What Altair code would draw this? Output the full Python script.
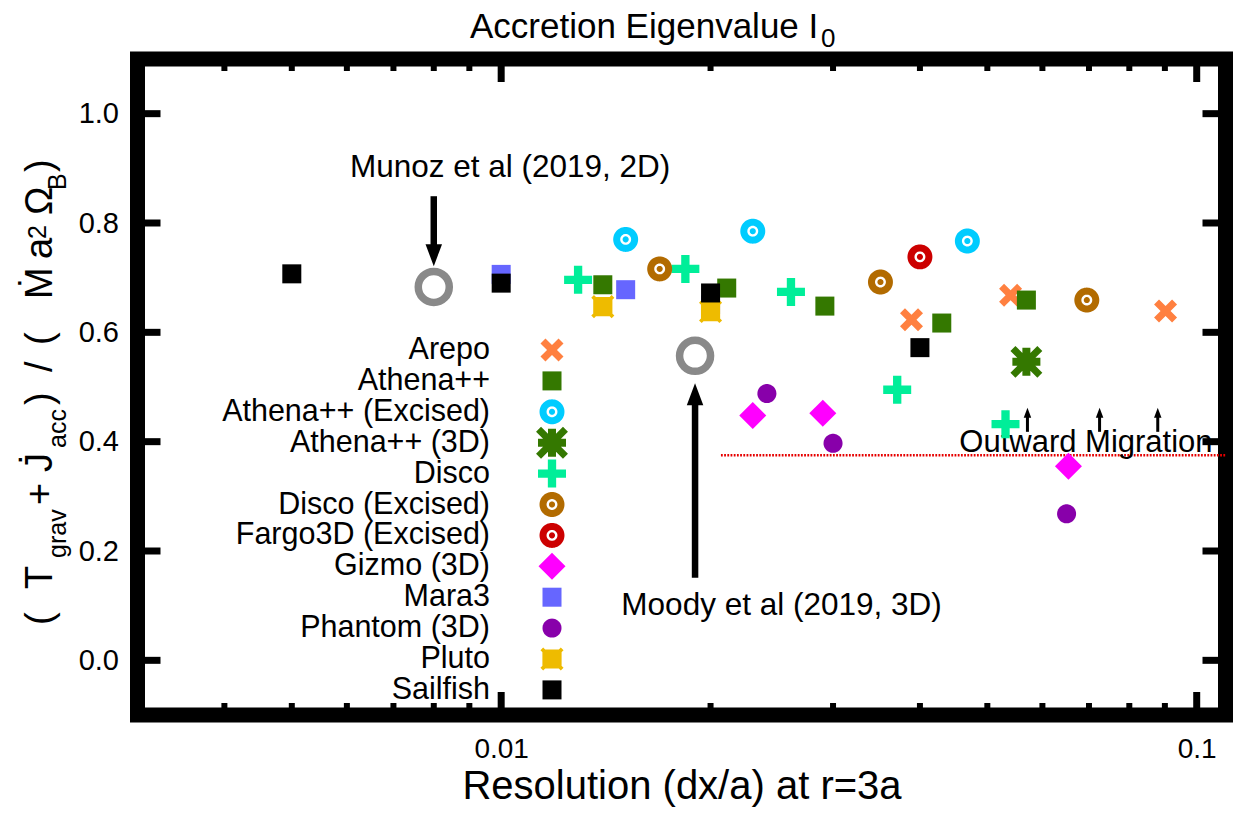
import math
import altair as alt
import pandas as pd

FONT = "Liberation Sans"

# plot-area size in pixels and the axis ranges
PLOT_W, PLOT_H = 1088, 656
X_DOMAIN = [0.003, 0.11]
Y_DOMAIN = [-0.1, 1.1]

codes = ["Arepo", "Athena++", "Athena++ (Excised)", "Athena++ (3D)", "Disco",
         "Disco (Excised)", "Fargo3D (Excised)", "Gizmo (3D)", "Mara3",
         "Phantom (3D)", "Pluto", "Sailfish"]
code_colors = ["#ff8040", "#347800", "#00ccff", "#347800", "#00ee99", "#b26b00",
               "#cc0000", "#ff00ff", "#6666ff", "#8800aa", "#eebb00", "#000000"]

# resolution (dx/a at r=3a) and accretion eigenvalue l0 for each code
arepo_res = [0.0389, 0.0540, 0.0902]
arepo_l0 = [0.623, 0.668, 0.639]
athena_res = [0.0140, 0.0211, 0.0292, 0.0430, 0.0569]
athena_l0 = [0.687, 0.681, 0.648, 0.617, 0.659]
athena_exc_res = [0.0151, 0.0230, 0.0468]
athena_exc_l0 = [0.770, 0.785, 0.767]
athena_3d_res = [0.0569]
athena_3d_l0 = [0.546]
disco_res = [0.0129, 0.0184, 0.0261, 0.0371, 0.0531]
disco_l0 = [0.696, 0.716, 0.674, 0.495, 0.432]
disco_exc_res = [0.0169, 0.0351, 0.0695]
disco_exc_l0 = [0.716, 0.692, 0.659]
fargo_exc_res = [0.0400]
fargo_exc_l0 = [0.738]
gizmo_res = [0.0230, 0.0290, 0.0654]
gizmo_l0 = [0.448, 0.452, 0.355]
mara_res = [0.0100, 0.0151, 0.0200]
mara_l0 = [0.706, 0.678, 0.650]
phantom_res = [0.0241, 0.0300, 0.0650]
phantom_l0 = [0.488, 0.397, 0.268]
pluto_res = [0.0140, 0.0200]
pluto_l0 = [0.647, 0.638]
sailfish_res = [0.0050, 0.0100, 0.0200, 0.0400]
sailfish_l0 = [0.707, 0.690, 0.672, 0.572]

# published reference values
ref_res = [0.0080, 0.0190]
ref_l0 = [0.683, 0.557]
ref_labels = ["Munoz et al (2019, 2D)", "Moody et al (2019, 3D)"]
ref_label_res = [0.0103, 0.0253]
ref_label_l0 = [0.900, 0.099]
ref_arrow_from = [0.849, 0.151]
ref_arrow_to = [0.721, 0.507]

# outward-migration threshold
migration_l0 = 0.375
migration_res = [0.0207, 0.11]
migration_arrow_res = [0.0571, 0.0725, 0.0879]
migration_arrow_from = 0.418
migration_arrow_to = 0.462
migration_label_res = 0.0693
migration_label_l0 = 0.397

x_major = [0.01, 0.1]
x_minor = [0.003, 0.004, 0.005, 0.006, 0.007, 0.008, 0.009,
           0.02, 0.03, 0.04, 0.05, 0.06, 0.07, 0.08, 0.09]
y_major = [0.0, 0.2, 0.4, 0.6, 0.8, 1.0]


# ---- marker outlines, in the -1..1 box that Vega scales by sqrt(size)/2 ----
def path(*polys):
    out = []
    for pts in polys:
        out.append("M" + "L".join(f"{x:.4f},{y:.4f}" for x, y in pts) + "Z")
    return "".join(out)


def square(s):
    return [(-s, -s), (s, -s), (s, s), (-s, s)]


def disk(r, n=64, reverse=False):
    pts = [(r * math.cos(2 * math.pi * k / n), r * math.sin(2 * math.pi * k / n)) for k in range(n)]
    return pts[::-1] if reverse else pts


def plus(L, t):
    return [(-t, -L), (t, -L), (t, -t), (L, -t), (L, t), (t, t),
            (t, L), (-t, L), (-t, t), (-L, t), (-L, -t), (-t, -t)]


def rot45(pts):
    c = math.sqrt(0.5)
    return [(x * c - y * c, x * c + y * c) for x, y in pts]


SQUARE = path(square(0.594))
DOT = path(disk(0.594))
DIAMOND = path([(0, -0.844), (0.844, 0), (0, 0.844), (-0.844, 0)])
PLUS = path(plus(0.875, 0.26))
CROSS = path(rot45(plus(0.797, 0.22)))
STAR = path(rot45(plus(1.19, 0.22)), plus(0.875, 0.25))
PLUTO = path(square(0.6), rot45(plus(0.9, 0.12)))
EXCISED = path(disk(0.78), disk(0.34, reverse=True), disk(0.19))

code_shapes = [CROSS, SQUARE, EXCISED, STAR, PLUS, EXCISED, EXCISED,
               DIAMOND, SQUARE, DOT, PLUTO, SQUARE]

series = [
    (arepo_res, arepo_l0), (athena_res, athena_l0), (athena_exc_res, athena_exc_l0),
    (athena_3d_res, athena_3d_l0), (disco_res, disco_l0), (disco_exc_res, disco_exc_l0),
    (fargo_exc_res, fargo_exc_l0), (gizmo_res, gizmo_l0), (mara_res, mara_l0),
    (phantom_res, phantom_l0), (pluto_res, pluto_l0), (sailfish_res, sailfish_l0),
]
rows = []
for code, (xs, ys) in zip(codes, series):
    rows += [{"code": code, "res": x, "l0": y} for x, y in zip(xs, ys)]
points_df = pd.DataFrame(rows)

x_scale = alt.Scale(type="log", domain=X_DOMAIN, nice=False)
y_scale = alt.Scale(domain=Y_DOMAIN, nice=False, zero=False)
x_axis = alt.Axis(values=x_major, format="~g", ticks=False, tickSize=0, domain=False,
                  grid=False, labelFont=FONT, labelFontSize=28, labelPadding=20,
                  labelColor="black", title="Resolution (dx/a) at r=3a", titleFont=FONT,
                  titleFontSize=40, titleFontWeight="normal", titleColor="black",
                  titlePadding=3)
y_axis = alt.Axis(values=y_major, format=".1f", ticks=False, tickSize=0, domain=False,
                  grid=False, labelFont=FONT, labelFontSize=29, labelPadding=19,
                  labelColor="black", title=None)


def xenc(field="res"):
    return alt.X(f"{field}:Q", scale=x_scale, axis=x_axis)


def yenc(field="l0"):
    return alt.Y(f"{field}:Q", scale=y_scale, axis=y_axis)


def one_row(**kw):
    return pd.DataFrame({k: [v] for k, v in kw.items()})


color_enc = alt.Color("code:N", scale=alt.Scale(domain=codes, range=code_colors), legend=None)
shape_enc = alt.Shape("code:N", scale=alt.Scale(domain=codes, range=code_shapes), legend=None)

points = alt.Chart(points_df).mark_point(filled=True, size=1024, opacity=1).encode(
    x=xenc(), y=yenc(), color=color_enc, shape=shape_enc)

# key: labels right-aligned to the left of their symbols, one row per code
KEY_SYMBOL_X, KEY_LABEL_X = 414.5, 352.5
KEY_TOP, KEY_STEP = 291, 30.9
key_base = alt.Chart(pd.DataFrame({"code": codes})).transform_window(
    slot="row_number()"
).transform_calculate(
    ky=f"{KEY_TOP} + {KEY_STEP} * (datum.slot - 1)"
)
key_symbols = key_base.mark_point(filled=True, size=1024, opacity=1).encode(
    x=alt.value(KEY_SYMBOL_X), y=alt.Y("ky:Q", scale=None), color=color_enc, shape=shape_enc)
key_labels = key_base.mark_text(font=FONT, fontSize=30.5, color="black", align="right",
                                baseline="middle").encode(
    x=alt.value(KEY_LABEL_X), y=alt.Y("ky:Q", scale=None), text="code:N")

# reference results: open grey rings with arrows and captions
ref_df = pd.DataFrame({"res": ref_res, "l0": ref_l0, "label": ref_labels,
                       "lres": ref_label_res, "ll0": ref_label_l0,
                       "afrom": ref_arrow_from, "ato": ref_arrow_to})
rings = alt.Chart(ref_df).mark_point(shape="circle", filled=False, size=961,
                                     strokeWidth=7.5, color="#898989", opacity=1).encode(
    x=xenc(), y=yenc())
ref_text = alt.Chart(ref_df).mark_text(font=FONT, fontSize=31.5, color="black",
                                       align="center", baseline="middle").encode(
    x=xenc("lres"), y=yenc("ll0"), text="label:N")

HEAD_DOWN = "M-0.75,-1L0.75,-1L0,1Z"
HEAD_UP = "M-0.75,1L0.75,1L0,-1Z"
arrow_layers = []
for sub, head, sign in [(ref_df.iloc[[0]], HEAD_DOWN, -1), (ref_df.iloc[[1]], HEAD_UP, 1)]:
    arrow_layers.append(
        alt.Chart(sub).mark_rule(color="black", strokeWidth=6.5, y2Offset=sign * 11).encode(
            x=xenc(), y=yenc("afrom"), y2=alt.Y2("ato:Q")))
    arrow_layers.append(
        alt.Chart(sub).mark_point(shape=head, filled=True, size=484, color="black",
                                  opacity=1, yOffset=sign * 11).encode(
            x=xenc(), y=yenc("ato")))

# outward migration boundary
mig_line = alt.Chart(one_row(res=migration_res[0], res2=migration_res[1], l0=migration_l0)
                     ).mark_rule(color="#e60000", strokeWidth=2.5, strokeDash=[1.8, 1.4]).encode(
    x=xenc(), x2=alt.X2("res2:Q"), y=yenc())
mig_arrow_df = pd.DataFrame({"res": migration_arrow_res,
                             "afrom": [migration_arrow_from] * len(migration_arrow_res),
                             "ato": [migration_arrow_to] * len(migration_arrow_res)})
mig_shaft = alt.Chart(mig_arrow_df).mark_rule(color="black", strokeWidth=3, y2Offset=5).encode(
    x=xenc(), y=yenc("afrom"), y2=alt.Y2("ato:Q"))
mig_head = alt.Chart(mig_arrow_df).mark_point(shape=HEAD_UP, filled=True, size=100,
                                              color="black", opacity=1, yOffset=5).encode(
    x=xenc(), y=yenc("ato"))
mig_text = alt.Chart(one_row(res=migration_label_res, l0=migration_label_l0,
                             label="Outward Migration")).mark_text(
    font=FONT, fontSize=31, color="black", align="center", baseline="middle").encode(
    x=xenc(), y=yenc(), text="label:N")

# heavy frame round the plot area
frame = alt.Chart(one_row(k=0)).mark_rect(filled=False, stroke="black", strokeWidth=15).encode(
    x=alt.value(0), x2=alt.value(PLOT_W), y=alt.value(0), y2=alt.value(PLOT_H))

# inward-pointing ticks on all four sides
MAJOR_LEN, MINOR_LEN = 23, 12
xt_major = pd.DataFrame({"res": x_major})
xt_minor = pd.DataFrame({"res": x_minor})
yt_major = pd.DataFrame({"l0": y_major})
tick_layers = []
for df_, length, width in [(xt_major, MAJOR_LEN, 7), (xt_minor, MINOR_LEN, 6)]:
    tick_layers.append(alt.Chart(df_).mark_rule(color="black", strokeWidth=width).encode(
        x=xenc(), y=alt.value(PLOT_H), y2=alt.value(PLOT_H - length)))
    tick_layers.append(alt.Chart(df_).mark_rule(color="black", strokeWidth=width).encode(
        x=xenc(), y=alt.value(0), y2=alt.value(length)))
tick_layers.append(alt.Chart(yt_major).mark_rule(color="black", strokeWidth=7).encode(
    y=yenc(), x=alt.value(0), x2=alt.value(MAJOR_LEN)))
tick_layers.append(alt.Chart(yt_major).mark_rule(color="black", strokeWidth=7).encode(
    y=yenc(), x=alt.value(PLOT_W), x2=alt.value(PLOT_W - MAJOR_LEN)))


def text_piece(txt, x, y, size, angle=0):
    props = dict(font=FONT, fontSize=size, color="black", align="left", baseline="alphabetic")
    if angle:
        props["angle"] = angle
    return alt.Chart(one_row(t=txt)).mark_text(**props).encode(
        x=alt.value(x), y=alt.value(y), text="t:N")


# y-axis title, rotated, glyph groups set one by one for the sub- and superscripts
MAIN_SIZE, SUB_SIZE = 38, 25
YT_BASE = -85.5
yt_shift = {"main": 0, "sub": 14, "sup": -6}
yt_pieces = [("(", "main", 566), ("T", "main", 530), ("grav", "sub", 499),
             ("+", "main", 446), ("J\u0307", "main", 413), ("acc", "sub", 389),
             (")", "main", 346), ("/", "main", 313), ("(", "main", 286),
             ("\u1e40", "main", 240), ("a", "main", 200), ("2", "sup", 180),
             ("\u03a9", "main", 156), ("B", "sub", 131), (")", "main", 113)]
ytitle_layers = [
    text_piece(t, YT_BASE + yt_shift[k], y, MAIN_SIZE if k == "main" else SUB_SIZE, angle=270)
    for t, k, y in yt_pieces
]

# chart title with a subscripted zero
title_layers = [
    text_piece("Accretion Eigenvalue I", 332.5, -21, 35),
    text_piece("0", 683.5, -12, 26),
]

chart = alt.layer(
    *tick_layers, frame, mig_line, mig_shaft, mig_head, mig_text,
    *arrow_layers, rings, ref_text, points, key_labels, key_symbols,
    *ytitle_layers, *title_layers,
).properties(
    width=PLOT_W, height=PLOT_H,
    autosize=alt.AutoSizeParams(type="none"),
    padding={"left": 137.5, "top": 59, "right": 13.5, "bottom": 100},
).configure_view(
    stroke=None
).configure(background="white")

chart.save("out.html", embed_options={"renderer": "svg", "actions": False})
